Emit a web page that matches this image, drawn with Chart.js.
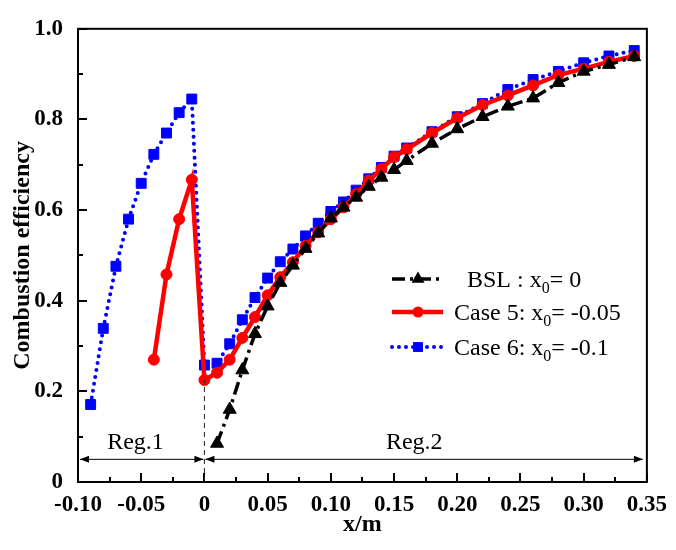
<!DOCTYPE html>
<html><head><meta charset="utf-8">
<script src="https://cdn.jsdelivr.net/npm/chart.js@4.4.1/dist/chart.umd.min.js"></script>
<style>html,body{margin:0;padding:0;background:#fff}</style>
</head><body>
<canvas id="c" width="676" height="550"></canvas>
<script>
// ---- data ----
const bslX = [0.01,0.02,0.03,0.04,0.05,0.06,0.07,0.08,0.09,0.10,0.11,0.12,0.13,0.14,0.15,0.16,0.18,0.20,0.22,0.24,0.26,0.28,0.30,0.32,0.34];
const bslY = [0.085,0.160,0.247,0.327,0.388,0.440,0.478,0.515,0.549,0.582,0.606,0.628,0.652,0.672,0.689,0.709,0.747,0.779,0.806,0.829,0.847,0.881,0.906,0.921,0.938];
const case5X = [-0.04,-0.03,-0.02,-0.01,0,0.01,0.02,0.03,0.04,0.05,0.06,0.07,0.08,0.09,0.10,0.11,0.12,0.13,0.14,0.15,0.16,0.18,0.20,0.22,0.24,0.26,0.28,0.30,0.32,0.34];
const case5Y = [0.270,0.458,0.580,0.667,0.225,0.241,0.270,0.318,0.364,0.412,0.452,0.485,0.521,0.551,0.580,0.606,0.635,0.665,0.691,0.717,0.734,0.770,0.803,0.832,0.853,0.875,0.898,0.912,0.927,0.940];
const case6X = [-0.09,-0.08,-0.07,-0.06,-0.05,-0.04,-0.03,-0.02,-0.01,0,0.01,0.02,0.03,0.04,0.05,0.06,0.07,0.08,0.09,0.10,0.11,0.12,0.13,0.14,0.15,0.16,0.18,0.20,0.22,0.24,0.26,0.28,0.30,0.32,0.34];
const case6Y = [0.171,0.339,0.476,0.580,0.659,0.723,0.770,0.815,0.845,0.258,0.262,0.305,0.358,0.407,0.450,0.486,0.514,0.543,0.571,0.597,0.618,0.644,0.669,0.694,0.719,0.737,0.773,0.806,0.835,0.866,0.888,0.906,0.925,0.940,0.952];
const seriesLabels = ['BSL : x\u2080= 0', 'Case 5: x\u2080= -0.05', 'Case 6: x\u2080= -0.1'];
const legendParts = [['BSL : x','0','= 0'], ['Case 5: x','0','= -0.05'], ['Case 6: x','0','= -0.1']];
const regionLabels = ['Reg.1', 'Reg.2'];
const regionBounds = [[-0.10, 0], [0, 0.35]];
const xTitle = 'x/m';
const yTitle = 'Combustion efficiency';

const pts = (xs, ys) => xs.map((x, i) => ({x, y: ys[i]}));
const SERIF = "'Liberation Serif','Times New Roman',serif";

const overlay = {
  id: 'overlay',
  afterDraw(chart) {
    const ctx = chart.ctx, xs = chart.scales.x, ys = chart.scales.y, a = chart.chartArea;
    ctx.save();
    // frame
    ctx.strokeStyle = '#000'; ctx.lineWidth = 2;
    ctx.strokeRect(a.left, a.top, a.right - a.left, a.bottom - a.top);
    // inward ticks
    ctx.lineWidth = 2;
    for (let k = 0; k <= 18; k++) {
      const v = -0.10 + k * 0.025;
      const px = Math.round(xs.getPixelForValue(v));
      const len = (k % 2 === 0) ? 9 : 5;
      ctx.beginPath(); ctx.moveTo(px, a.bottom); ctx.lineTo(px, a.bottom - len); ctx.stroke();
    }
    for (let k = 0; k <= 10; k++) {
      const v = k * 0.1;
      const py = Math.round(ys.getPixelForValue(v));
      const len = (k % 2 === 0) ? 9 : 5;
      ctx.beginPath(); ctx.moveTo(a.left, py); ctx.lineTo(a.left + len, py); ctx.stroke();
    }
    // dashed vertical line at x=0
    const x0 = xs.getPixelForValue(0);
    ctx.lineWidth = 1; ctx.strokeStyle = '#222'; ctx.setLineDash([5, 4]);
    ctx.beginPath(); ctx.moveTo(x0, a.bottom); ctx.lineTo(x0, ys.getPixelForValue(case5Y[4])); ctx.stroke();
    ctx.setLineDash([]);
    // region arrows
    const ay = ys.getPixelForValue(0.05);
    const arrowHead = (x, y, dir) => {
      ctx.beginPath(); ctx.moveTo(x, y); ctx.lineTo(x - dir * 9, y - 3.5); ctx.lineTo(x - dir * 9, y + 3.5); ctx.closePath(); ctx.fill();
    };
    ctx.fillStyle = '#000'; ctx.strokeStyle = '#000'; ctx.lineWidth = 1;
    regionBounds.forEach(([l, r]) => {
      const pl = Math.max(xs.getPixelForValue(l), a.left + 1) + 1;
      const pr = Math.min(xs.getPixelForValue(r), a.right - 3) - 1;
      ctx.beginPath(); ctx.moveTo(pl, ay); ctx.lineTo(pr, ay); ctx.stroke();
      arrowHead(pl, ay, -1); arrowHead(pr, ay, 1);
    });
    ctx.font = '24px ' + SERIF; ctx.textAlign = 'center'; ctx.textBaseline = 'middle';
    ctx.fillText(regionLabels[0], xs.getPixelForValue(-0.0545), ay - 17);
    ctx.fillText(regionLabels[1], xs.getPixelForValue(0.166), ay - 17);
    // legend
    const rows = [279, 312, 347];
    const textX = [467, 454, 454];
    chart.data.datasets.forEach((ds, i) => {
      const y = rows[i];
      ctx.strokeStyle = ds.borderColor; ctx.lineWidth = ds.borderWidth;
      ctx.setLineDash(ds.borderDash || []); ctx.lineCap = ds.borderCapStyle || 'butt';
      ctx.beginPath(); ctx.moveTo(392, y); ctx.lineTo(443, y); ctx.stroke();
      ctx.setLineDash([]); ctx.lineCap = 'butt';
      ctx.fillStyle = ds.borderColor;
      const mx = 418;
      ctx.beginPath();
      if (ds.pointStyle === 'triangle') {
        const r = ds.pointRadius;
        ctx.moveTo(mx, y - r); ctx.lineTo(mx + r * 0.866, y + r * 0.5); ctx.lineTo(mx - r * 0.866, y + r * 0.5); ctx.closePath();
      } else if (ds.pointStyle === 'rect') {
        const s = ds.pointRadius * Math.SQRT1_2;
        ctx.rect(mx - s, y - s, 2 * s, 2 * s);
      } else {
        ctx.arc(mx, y, ds.pointRadius, 0, Math.PI * 2);
      }
      ctx.fill();
      // text with subscript
      const [p1, sub, p2] = legendParts[i];
      ctx.fillStyle = '#000'; ctx.textAlign = 'left'; ctx.textBaseline = 'alphabetic';
      let tx = textX[i];
      const base = y + 8;
      ctx.font = '24px ' + SERIF; ctx.fillText(p1, tx, base); tx += ctx.measureText(p1).width;
      ctx.font = '16px ' + SERIF; ctx.fillText(sub, tx, base + 6); tx += ctx.measureText(sub).width;
      ctx.font = '24px ' + SERIF; ctx.fillText(p2, tx, base);
    });
    ctx.restore();
  }
};

new Chart(document.getElementById('c'), {
  type: 'line',
  data: {
    datasets: [
      { label: seriesLabels[0], data: pts(bslX, bslY), borderColor: '#000', backgroundColor: '#000',
        borderWidth: 3.5, borderDash: [13, 5, 3, 5], pointStyle: 'triangle', pointRadius: 7.5,
        pointBackgroundColor: '#000', pointBorderColor: '#000', pointBorderWidth: 1, tension: 0 },
      { label: seriesLabels[1], data: pts(case5X, case5Y), borderColor: '#ff0000', backgroundColor: '#ff0000',
        borderWidth: 4.5, pointStyle: 'circle', pointRadius: 5.5,
        pointBackgroundColor: '#ff0000', pointBorderColor: '#ff0000', pointBorderWidth: 1, tension: 0 },
      { label: seriesLabels[2], data: pts(case6X, case6Y), borderColor: '#0000ff', backgroundColor: '#0000ff',
        borderWidth: 4, borderDash: [0, 7], borderCapStyle: 'round', pointStyle: 'rect', pointRadius: 7,
        pointBackgroundColor: '#0000ff', pointBorderColor: '#0000ff', pointBorderWidth: 1, tension: 0 }
    ]
  },
  options: {
    responsive: false, animation: false, devicePixelRatio: 1,
    layout: { padding: { top: 18, right: 23, left: 0, bottom: 0 } },
    plugins: { legend: { display: false }, tooltip: { enabled: false } },
    scales: {
      x: {
        type: 'linear', min: -0.10, max: 0.35,
        ticks: { stepSize: 0.05, padding: 9, color: '#000', maxRotation: 0, autoSkip: false,
          font: { family: SERIF, weight: 'bold', size: 23 },
          callback: v => { const r = Math.round(v * 100) / 100; return r === 0 ? '0' : r.toFixed(2); } },
        grid: { display: false, drawTicks: false },
        border: { display: false },
        title: { display: true, text: xTitle, color: '#000', font: { family: SERIF, weight: 'bold', size: 24 }, padding: { top: 0, bottom: 11 } },
        afterFit: s => { s.height = 68; }
      },
      y: {
        type: 'linear', min: 0, max: 1,
        ticks: { stepSize: 0.2, padding: 15, color: '#000',
          font: { family: SERIF, weight: 'bold', size: 23 },
          callback: v => { const r = Math.round(v * 10) / 10; return r === 0 ? '0' : r.toFixed(1); } },
        grid: { display: false, drawTicks: false },
        border: { display: false },
        title: { display: true, text: yTitle, color: '#000', font: { family: SERIF, weight: 'bold', size: 24 }, padding: { top: 8, bottom: 0 } },
        afterFit: s => { s.width = 78; }
      }
    }
  },
  plugins: [overlay]
});
</script>
</body></html>
